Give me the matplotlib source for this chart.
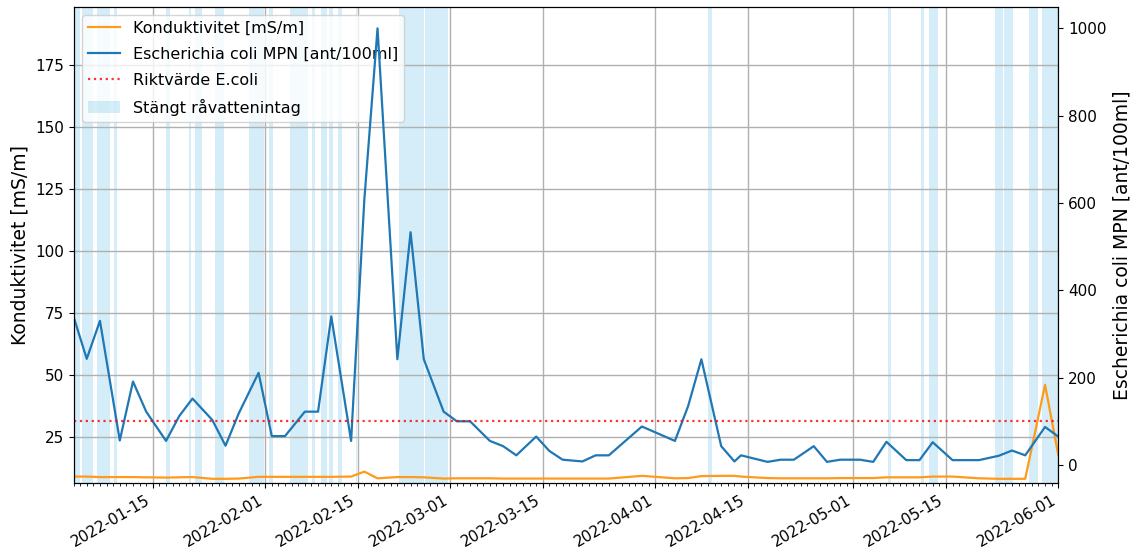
import pandas as pd
import matplotlib
matplotlib.use("Agg")
import matplotlib.pyplot as plt
import matplotlib.dates as mdates
from matplotlib.patches import Patch
from matplotlib.lines import Line2D

# provdatum
dates = ["2022-01-03", "2022-01-05", "2022-01-07", "2022-01-10", "2022-01-12", "2022-01-14",
         "2022-01-17", "2022-01-19", "2022-01-21", "2022-01-24", "2022-01-26", "2022-01-28",
         "2022-01-31", "2022-02-02", "2022-02-04", "2022-02-07", "2022-02-09", "2022-02-11",
         "2022-02-14", "2022-02-16", "2022-02-18", "2022-02-21", "2022-02-23", "2022-02-25",
         "2022-02-28", "2022-03-02", "2022-03-04", "2022-03-07", "2022-03-09", "2022-03-11",
         "2022-03-14", "2022-03-16", "2022-03-18", "2022-03-21", "2022-03-23", "2022-03-25",
         "2022-03-30", "2022-04-04", "2022-04-06", "2022-04-08", "2022-04-11", "2022-04-13",
         "2022-04-14", "2022-04-18", "2022-04-20", "2022-04-22", "2022-04-25", "2022-04-27",
         "2022-04-29", "2022-05-02", "2022-05-04", "2022-05-06", "2022-05-09", "2022-05-11",
         "2022-05-13", "2022-05-16", "2022-05-20", "2022-05-23", "2022-05-25", "2022-05-27",
         "2022-05-30", "2022-06-01"]

ecoli = [340, 243, 330, 56, 191, 122, 55, 112, 152, 103, 44, 118,
         211, 66, 66, 122, 122, 340, 55, 607, 1000, 242, 533, 242,
         122, 100, 100, 55, 43, 22, 65, 32, 12, 8, 22, 22,
         88, 55, 135, 242, 43, 8, 22, 7, 12, 12, 43, 7,
         12, 12, 7, 53, 11, 11, 52, 11, 11, 21, 33, 22,
         87, 65]

kond = [9.2, 9.2, 9.0, 9.0, 9.0, 8.9, 8.8, 8.9, 9.0, 8.3, 8.3, 8.4,
        9.1, 9.1, 9.1, 9.1, 9.1, 9.1, 9.2, 11.2, 8.5, 9.0, 9.0, 8.9,
        8.4, 8.5, 8.5, 8.5, 8.4, 8.4, 8.4, 8.4, 8.4, 8.4, 8.4, 8.4,
        9.5, 8.5, 8.6, 9.4, 9.5, 9.5, 9.2, 8.6, 8.5, 8.5, 8.5, 8.5,
        8.6, 8.6, 8.6, 8.9, 8.9, 8.9, 9.2, 9.2, 8.5, 8.3, 8.3, 8.3,
        46.2, 17.9]

# perioder med stängt råvattenintag
stangt_start = ["2022-01-03 00:00", "2022-01-04 06:00", "2022-01-06 12:00", "2022-01-09 03:00",
                "2022-01-17 00:00", "2022-01-20 12:00", "2022-01-21 10:00", "2022-01-24 11:00",
                "2022-01-29 14:00", "2022-02-01 14:00", "2022-02-04 19:00", "2022-02-08 02:00",
                "2022-02-09 10:00", "2022-02-10 14:00", "2022-02-12 02:00", "2022-02-14 18:00",
                "2022-02-21 07:00", "2022-02-25 04:00", "2022-04-08 23:00", "2022-05-06 07:00",
                "2022-05-11 05:00", "2022-05-12 10:00", "2022-05-22 10:00", "2022-05-23 18:00",
                "2022-05-27 14:00", "2022-05-29 14:00", "2022-05-31 02:00"]
stangt_slut = ["2022-01-04 00:00", "2022-01-06 00:00", "2022-01-08 12:00", "2022-01-09 13:00",
               "2022-01-17 14:00", "2022-01-20 17:00", "2022-01-22 10:00", "2022-01-25 19:00",
               "2022-01-31 19:00", "2022-02-02 05:00", "2022-02-07 12:00", "2022-02-08 14:00",
               "2022-02-10 07:00", "2022-02-11 05:00", "2022-02-12 14:00", "2022-02-14 23:00",
               "2022-02-25 01:00", "2022-02-28 17:00", "2022-04-09 16:00", "2022-05-06 16:00",
               "2022-05-11 17:00", "2022-05-13 18:00", "2022-05-23 16:00", "2022-05-25 02:00",
               "2022-05-28 22:00", "2022-05-31 00:00", "2022-06-01 00:00"]

riktvarde = 100

df = pd.DataFrame({"datum": pd.to_datetime(dates), "kond": kond, "ecoli": ecoli})

plt.rcParams["xtick.labelsize"] = 11
plt.rcParams["ytick.labelsize"] = 11

fig = plt.figure(figsize=(11.31, 5.52), dpi=100)
ax1 = fig.add_axes([0.065, 0.1245, 0.8707, 0.8634])
ax2 = ax1.twinx()

for s, e in zip(stangt_start, stangt_slut):
    ax1.axvspan(pd.Timestamp(s), pd.Timestamp(e), color="skyblue", alpha=0.35, lw=0, zorder=0)

ax1.plot(df["datum"], df["kond"], color="#ff9a1a", lw=1.6, zorder=2)
ax2.plot(df["datum"], df["ecoli"], color="tab:blue", lw=1.6)
ax2.axhline(riktvarde, color="red", linestyle=":", lw=1.6, alpha=0.8)

ax1.set_xlim(df["datum"].iloc[0], df["datum"].iloc[-1])
ax1.set_ylim(6.5, 198.7)
ax2.set_ylim(-42, 1049.5)

ax1.xaxis.set_major_locator(mdates.DayLocator(bymonthday=[1, 15]))
ax1.xaxis.set_minor_locator(mdates.DayLocator())
ax1.xaxis.set_major_formatter(mdates.DateFormatter("%Y-%m-%d"))
for lbl in ax1.get_xticklabels():
    lbl.set_rotation(30)
    lbl.set_ha("right")

ax1.grid(True, color="#b0b0b0", lw=1.0)
ax1.set_ylabel("Konduktivitet [mS/m]", fontsize=13.5)
ax2.set_ylabel("Escherichia coli MPN [ant/100ml]", fontsize=13.5)

handles = [Line2D([], [], color="#ff9a1a", lw=1.6),
           Line2D([], [], color="tab:blue", lw=1.6),
           Line2D([], [], color="red", linestyle=":", lw=1.6, alpha=0.8),
           Patch(facecolor="skyblue", alpha=0.35)]
labels = ["Konduktivitet [mS/m]", "Escherichia coli MPN [ant/100ml]",
          "Riktvärde E.coli", "Stängt råvattenintag"]
ax1.legend(handles, labels, loc="upper left", fontsize=11.5, labelspacing=0.68)

plt.savefig("out.png", dpi=100)
